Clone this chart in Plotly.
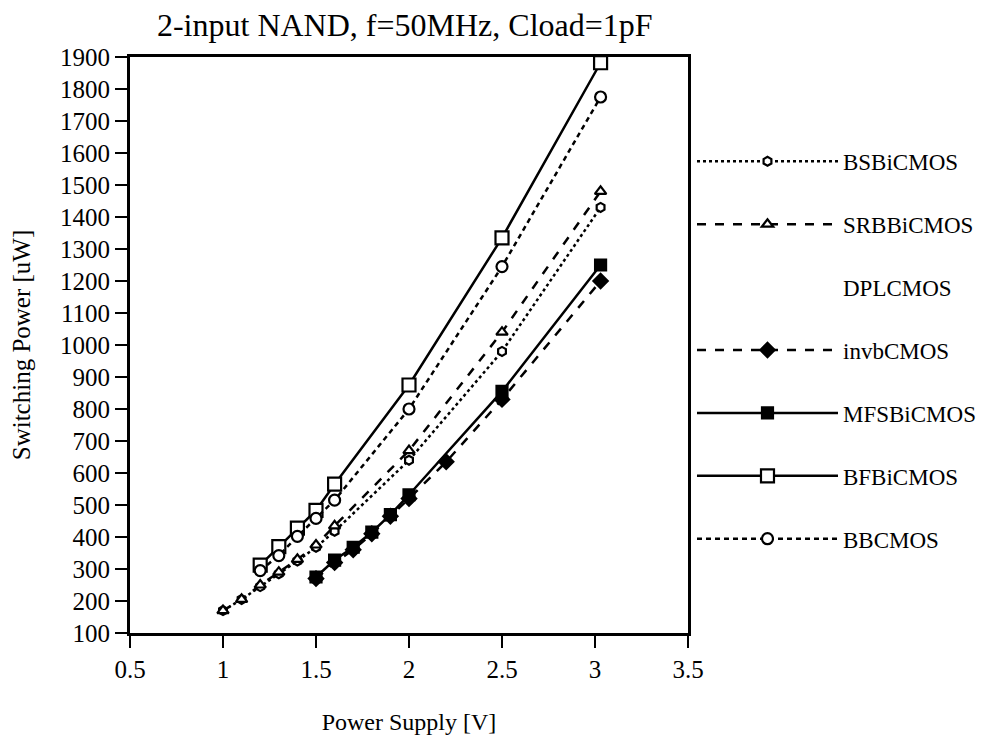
import plotly.graph_objects as go

# supply voltage [V] and switching power [uW] per gate style
bs_x = [1.0, 1.1, 1.2, 1.3, 1.4, 1.5, 1.6, 2.0, 2.5, 3.03]
bs_y = [170, 205, 245, 285, 325, 368, 418, 640, 980, 1430]

srb_x = [1.0, 1.1, 1.2, 1.3, 1.4, 1.5, 1.6, 2.0, 2.5, 3.03]
srb_y = [170, 205, 250, 290, 330, 375, 435, 670, 1040, 1480]

invb_x = [1.5, 1.6, 1.7, 1.8, 1.9, 2.0, 2.2, 2.5, 3.03]
invb_y = [270, 320, 360, 410, 465, 520, 635, 830, 1200]

mfs_x = [1.5, 1.6, 1.7, 1.8, 1.9, 2.0, 2.5, 3.03]
mfs_y = [275, 328, 368, 415, 470, 532, 855, 1250]

bf_x = [1.2, 1.3, 1.4, 1.5, 1.6, 2.0, 2.5, 3.03]
bf_y = [312, 370, 428, 483, 565, 875, 1335, 1882]

bb_x = [1.2, 1.3, 1.4, 1.5, 1.6, 2.0, 2.5, 3.03]
bb_y = [295, 342, 402, 458, 515, 800, 1245, 1775]

FONT = "Liberation Serif, Times New Roman, serif"

# name, x, y, dash, symbol, size, filled
series = [
    ("BSBiCMOS", bs_x, bs_y, "dot", "hexagon", 9, False),
    ("SRBBiCMOS", srb_x, srb_y, "dash", "triangle-up", 10, False),
    ("DPLCMOS", [], [], "solid", "circle", 1, False),
    ("invbCMOS", invb_x, invb_y, "dash", "diamond", 11, True),
    ("MFSBiCMOS", mfs_x, mfs_y, "solid", "square", 11, True),
    ("BFBiCMOS", bf_x, bf_y, "solid", "square", 13, False),
    ("BBCMOS", bb_x, bb_y, "5px,4px", "circle", 11, False),
]

fig = go.Figure()
for name, xs, ys, dash, sym, size, filled in series:
    if name == "DPLCMOS":
        # listed in the legend but no data drawn
        fig.add_trace(go.Scatter(x=[None], y=[None], name=name, mode="lines",
                                 line=dict(color="rgba(0,0,0,0)", width=2),
                                 legendgroup=name))
        continue
    fig.add_trace(go.Scatter(
        x=xs, y=ys, name=name, mode="lines+markers", legendgroup=name,
        line=dict(color="black", width=2.5, dash=dash),
        marker=dict(symbol=sym, size=size, color="black" if filled else "white",
                    line=dict(color="black", width=2.2)),
    ))

fig.update_layout(
    width=987, height=745,
    paper_bgcolor="white", plot_bgcolor="white",
    margin=dict(l=122, r=307, t=49, b=120),
    font=dict(family=FONT, size=25, color="black"),
    title=dict(text="2-input NAND, f=50MHz, Cload=1pF", x=0.402, xanchor="center",
               y=0.978, yanchor="middle", font=dict(size=32)),
    legend=dict(xref="container", yref="container", x=0.693, xanchor="left",
                y=0.823, yanchor="top", maxheight=700,
                font=dict(size=23), tracegroupgap=30, itemwidth=141,
                bgcolor="rgba(0,0,0,0)"),
)
fig.update_xaxes(range=[0.5, 3.5], dtick=0.5, automargin=False,
                 showgrid=False, zeroline=False,
                 showline=True, linecolor="black", linewidth=3, mirror=True,
                 ticks="outside", ticklen=12, tickwidth=2, tickcolor="black",
                 title=dict(text="Power Supply [V]", font=dict(size=24), standoff=32))
fig.update_yaxes(range=[100, 1900], dtick=100, automargin=False,
                 showgrid=False, zeroline=False,
                 showline=True, linecolor="black", linewidth=3, mirror=True,
                 ticks="outside", ticklen=12, tickwidth=2, tickcolor="black",
                 title=dict(text="Switching Power [uW]", font=dict(size=25), standoff=24))

fig.write_html("out.html")
